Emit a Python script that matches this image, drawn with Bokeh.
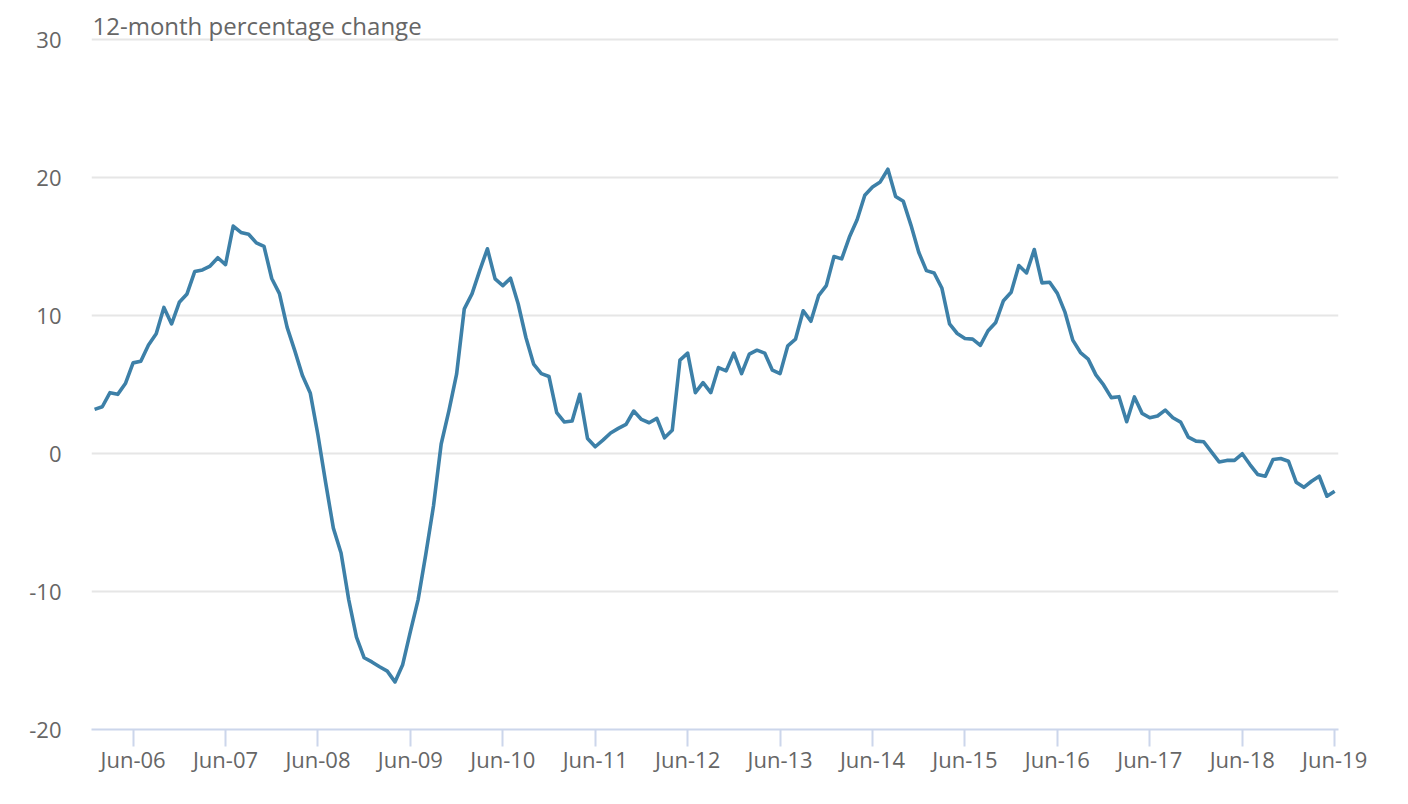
from bokeh.plotting import figure
from bokeh.models import Range1d, FixedTicker, ColumnDataSource
from bokeh.core.properties import value
from bokeh.embed import file_html
from bokeh.resources import INLINE

# ---- data: monthly 12-month percentage change, Jan-2006 .. Jun-2019 ----
v2006 = [3.21, 3.40, 4.42, 4.30, 5.08, 6.58, 6.70, 7.87, 8.69, 10.60, 9.40, 10.97]
v2007 = [11.58, 13.20, 13.32, 13.60, 14.20, 13.70, 16.50, 16.04, 15.90, 15.28, 15.02, 12.70]
v2008 = [11.60, 9.15, 7.45, 5.64, 4.40, 1.35, -2.10, -5.40, -7.20, -10.60, -13.30, -14.80]
v2009 = [-15.10, -15.45, -15.77, -16.55, -15.30, -12.90, -10.60, -7.30, -3.80, 0.70, 3.10, 5.76]
v2010 = [10.50, 11.58, 13.27, 14.85, 12.67, 12.18, 12.72, 10.85, 8.42, 6.49, 5.80, 5.59]
v2011 = [2.97, 2.29, 2.36, 4.30, 1.10, 0.50, 0.98, 1.50, 1.83, 2.12, 3.09, 2.48]
v2012 = [2.24, 2.56, 1.15, 1.69, 6.78, 7.29, 4.42, 5.15, 4.42, 6.24, 6.00, 7.29]
v2013 = [5.80, 7.21, 7.50, 7.29, 6.05, 5.80, 7.82, 8.30, 10.36, 9.60, 11.45, 12.18]
v2014 = [14.29, 14.12, 15.70, 16.96, 18.73, 19.33, 19.70, 20.62, 18.65, 18.29, 16.55, 14.60]
v2015 = [13.27, 13.10, 12.01, 9.40, 8.71, 8.35, 8.30, 7.85, 8.91, 9.51, 11.09, 11.70]
v2016 = [13.64, 13.10, 14.80, 12.38, 12.42, 11.62, 10.24, 8.23, 7.33, 6.85, 5.71, 4.98]
v2017 = [4.06, 4.13, 2.31, 4.11, 2.92, 2.60, 2.73, 3.16, 2.60, 2.29, 1.20, 0.91]
v2018 = [0.86, 0.13, -0.60, -0.49, -0.49, -0.01, -0.79, -1.51, -1.64, -0.42, -0.35, -0.55]
v2019 = [-2.07, -2.44, -2.00, -1.64, -3.09, -2.73]

tick_labels = ["Jun-06", "Jun-07", "Jun-08", "Jun-09", "Jun-10", "Jun-11", "Jun-12",
               "Jun-13", "Jun-14", "Jun-15", "Jun-16", "Jun-17", "Jun-18", "Jun-19"]
y_ticks = [-20, -10, 0, 10, 20, 30]
y_tick_labels = ["-20", "-10", "0", "10", "20", "30"]
title_text = "12-month percentage change"

values = (v2006 + v2007 + v2008 + v2009 + v2010 + v2011 + v2012 + v2013 +
          v2014 + v2015 + v2016 + v2017 + v2018 + v2019)
month_index = list(range(len(values)))          # 0 = Jan-06
tick_positions = [5 + 12 * k for k in range(len(tick_labels))]  # each June

FONT = "Open Sans"
TEXT = "#666666"

p = figure(
    frame_width=1247, frame_height=720,
    min_border_left=91, min_border_right=54, min_border_top=9, min_border_bottom=58,
    x_range=Range1d(-0.4, 161.5), y_range=Range1d(-20, 32.2),
    output_backend="svg", toolbar_location=None,
    background_fill_color="white", border_fill_color="white",
)
p.outline_line_color = None

src = ColumnDataSource(dict(x=month_index, y=values))
p.line("x", "y", source=src, line_color="#3d80a8", line_width=3.6, line_join="round")

# y axis
p.yaxis.ticker = FixedTicker(ticks=y_ticks)
p.yaxis.major_label_overrides = {t: s for t, s in zip(y_ticks, y_tick_labels)}
p.yaxis.axis_line_color = None
p.yaxis.major_tick_line_color = None
p.yaxis.minor_tick_line_color = None
p.yaxis.major_label_standoff = 24
p.yaxis.major_label_text_font = FONT
p.yaxis.major_label_text_font_size = "22px"
p.yaxis.major_label_text_color = TEXT

# x axis
p.xaxis.ticker = FixedTicker(ticks=tick_positions)
p.xaxis.major_label_overrides = {pos: lab for pos, lab in zip(tick_positions, tick_labels)}
p.xaxis.axis_line_color = "#ccd6eb"
p.xaxis.axis_line_width = 2
p.xaxis.major_tick_line_color = "#ccd6eb"
p.xaxis.major_tick_line_width = 2
p.xaxis.major_tick_out = 17
p.xaxis.major_tick_in = 0
p.xaxis.minor_tick_line_color = None
p.xaxis.major_label_standoff = -3
p.xaxis.major_label_text_font = FONT
p.xaxis.major_label_text_font_size = "22px"
p.xaxis.major_label_text_color = TEXT

# grids
p.xgrid.grid_line_color = None
p.ygrid.ticker = FixedTicker(ticks=y_ticks)
p.ygrid.grid_line_color = "#e6e6e6"
p.ygrid.grid_line_width = 2

# title text inside the top of the plot area
p.text(x=[-0.4], y=[31.07], text=[title_text], x_offset=1,
       text_font=value(FONT), text_font_size="24px", text_color=TEXT,
       text_baseline="alphabetic", text_align="left")

open("out.html", "w").write(file_html(p, INLINE))
